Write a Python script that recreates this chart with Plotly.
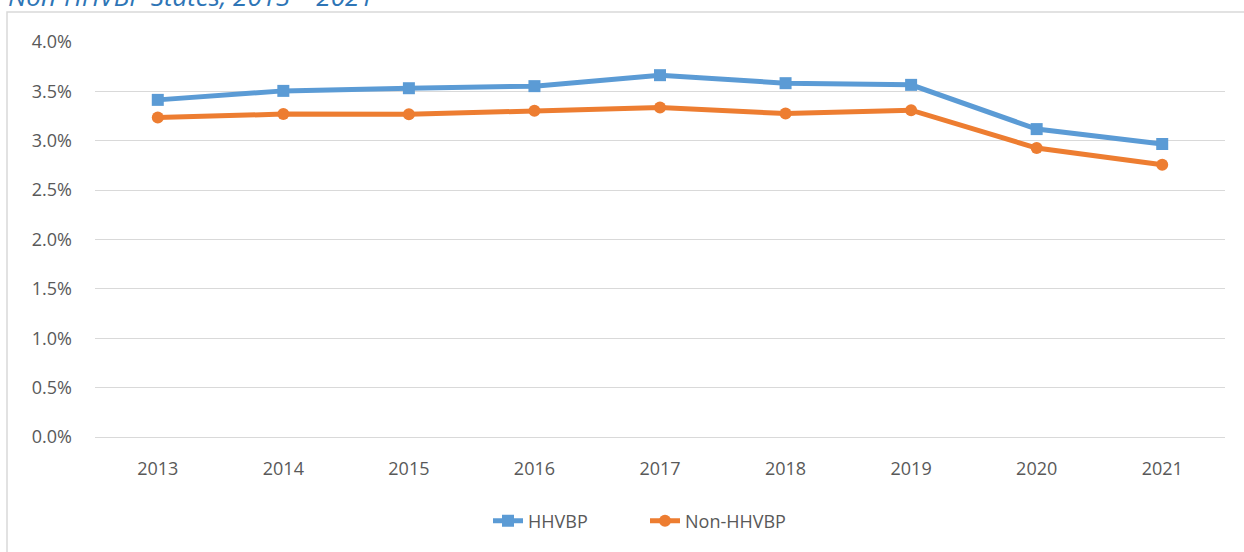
import plotly.graph_objects as go

years = ['2013', '2014', '2015', '2016', '2017', '2018', '2019', '2020', '2021']
hhvbp = [0.03414, 0.03505, 0.03532, 0.03553, 0.03664, 0.03583, 0.03566, 0.03118, 0.02967]
non_hhvbp = [0.03235, 0.03270, 0.03268, 0.03303, 0.03336, 0.03276, 0.03310, 0.02926, 0.02758]
y_ticks = [0, 0.005, 0.01, 0.015, 0.02, 0.025, 0.03, 0.035, 0.04]

BLUE = '#5B9BD5'
ORANGE = '#ED7D31'
GRID = '#D9D9D9'
TXT = '#595959'

fig = go.Figure()
fig.add_trace(go.Scatter(x=years, y=hhvbp, name='HHVBP', mode='lines+markers',
                         line=dict(color=BLUE, width=5),
                         marker=dict(symbol='square', size=12, color=BLUE)))
fig.add_trace(go.Scatter(x=years, y=non_hhvbp, name='Non-HHVBP', mode='lines+markers',
                         line=dict(color=ORANGE, width=5),
                         marker=dict(symbol='circle', size=12, color=ORANGE)))

fig.update_layout(
    width=1244, height=552,
    margin=dict(l=95, r=19, t=42, b=115),
    paper_bgcolor='white', plot_bgcolor='white',
    font=dict(family='Open Sans', size=18, color=TXT),
    legend=dict(orientation='h', x=(645 - 95) / 1130, xanchor='center',
                y=-0.213, yanchor='middle', font=dict(size=18, color=TXT),
                entrywidth=112, entrywidthmode='pixels'),
)
fig.update_xaxes(type='category', showgrid=False, showline=False, ticks='',
                 ticklabelstandoff=19, range=[-0.5, 8.5], automargin=False)
fig.update_yaxes(range=[0, 0.04], tickvals=y_ticks, tickformat='.1%', showgrid=True,
                 gridcolor=GRID, gridwidth=1.2, zeroline=True, zerolinecolor=GRID,
                 zerolinewidth=1.2, showline=False, ticks='', ticklabelstandoff=22,
                 automargin=False)

# chart frame border (runs past the page edges like the reference crop)
fig.add_shape(type='rect', xref='paper', yref='paper',
              x0=(7 - 95) / 1130, x1=(1260 - 95) / 1130,
              y0=(437 - 570) / 395, y1=(437 - 12) / 395,
              line=dict(color=GRID, width=1.5), fillcolor='rgba(0,0,0,0)', layer='below')

# clipped title at the top
fig.add_annotation(text='Non-HHVBP States, 2013 – 2021', xref='paper', yref='paper',
                   x=(6 - 95) / 1130, xanchor='left', y=(437 + 4) / 395, yanchor='middle',
                   showarrow=False,
                   font=dict(family='Open Sans', size=26, color='#2E75B6', style='italic'))

fig.write_html("out.html", config={'displayModeBar': False},
               post_script="document.body.style.margin='0';")
